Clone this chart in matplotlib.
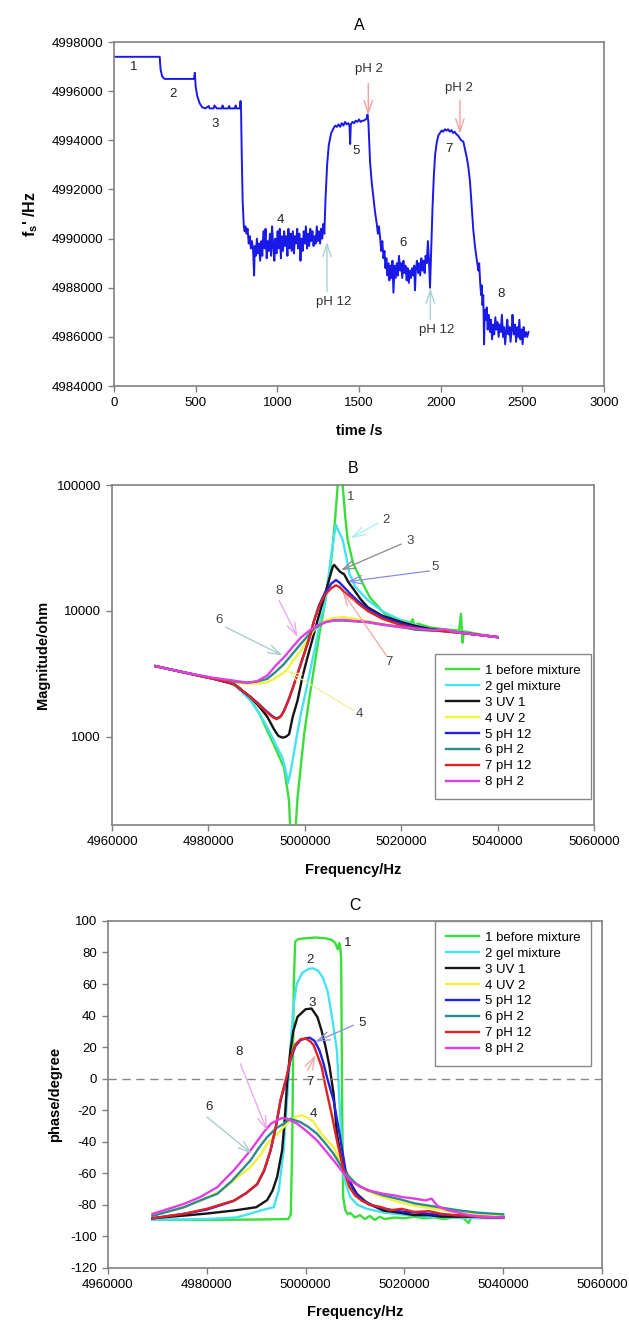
import matplotlib.pyplot as plt
from matplotlib.ticker import NullLocator

plt.rcParams['font.family'] = ['Liberation Sans', 'DejaVu Sans']
plt.rcParams['mathtext.fontset'] = 'custom'
plt.rcParams['mathtext.rm'] = 'Liberation Sans'
plt.rcParams['mathtext.bf'] = 'Liberation Sans:bold'

# ---------------- panel A : resonance frequency vs time ----------------
a_time = [0, 280, 285, 295, 310, 490, 495, 500, 510, 525,
          540, 560, 580, 585, 610, 615, 630, 660, 665, 670,
          700, 705, 710, 740, 745, 750, 770, 775, 778, 782,
          788, 795, 800, 805, 812, 818, 825, 832, 838, 845,
          852, 858, 862, 868, 875, 882, 888, 895, 902, 908,
          915, 922, 928, 935, 942, 948, 955, 962, 968, 975,
          982, 988, 995, 1002, 1008, 1015, 1022, 1028, 1035, 1042,
          1048, 1055, 1062, 1068, 1075, 1082, 1088, 1095, 1102, 1108,
          1115, 1122, 1128, 1135, 1142, 1148, 1155, 1162, 1168, 1175,
          1182, 1188, 1195, 1202, 1208, 1215, 1222, 1228, 1235, 1242,
          1248, 1255, 1262, 1268, 1275, 1282, 1288, 1295, 1305, 1315,
          1330, 1345, 1355, 1365, 1375, 1385, 1395, 1405, 1415, 1425,
          1435, 1442, 1446, 1450, 1460, 1470, 1480, 1490, 1500, 1510,
          1520, 1530, 1540, 1548, 1552, 1558, 1568, 1578, 1588, 1598,
          1609, 1616, 1622, 1630, 1636, 1643, 1650, 1656, 1662, 1668,
          1674, 1680, 1686, 1692, 1698, 1705, 1711, 1718, 1725, 1732,
          1738, 1745, 1752, 1758, 1765, 1772, 1778, 1785, 1792, 1798,
          1805, 1812, 1818, 1825, 1832, 1838, 1843, 1848, 1855, 1862,
          1868, 1875, 1882, 1888, 1895, 1902, 1908, 1915, 1922, 1928,
          1935, 1942, 1950, 1958, 1966, 1976, 1986, 1996, 2006, 2016,
          2026, 2036, 2046, 2056, 2066, 2076, 2086, 2096, 2106, 2116,
          2126, 2139, 2150, 2160, 2170, 2180, 2190, 2200, 2210, 2220,
          2231, 2236, 2242, 2248, 2252, 2256, 2261, 2266, 2270, 2276,
          2282, 2288, 2295, 2302, 2308, 2315, 2322, 2328, 2335, 2342,
          2348, 2355, 2362, 2368, 2375, 2382, 2388, 2395, 2402, 2408,
          2415, 2422, 2428, 2435, 2440, 2448, 2455, 2462, 2468, 2475,
          2482, 2488, 2495, 2502, 2508, 2515, 2522, 2530, 2538]
a_freq = [4997400, 4997400, 4996900, 4996600, 4996500, 4996500, 4996750, 4996200, 4995800, 4995500,
          4995350, 4995300, 4995400, 4995300, 4995300, 4995420, 4995300, 4995300, 4995420, 4995300,
          4995300, 4995400, 4995300, 4995300, 4995420, 4995300, 4995300, 4995600, 4995300, 4993500,
          4991500, 4990500, 4990300, 4990500, 4990200, 4990400, 4989800, 4990100, 4989600, 4989900,
          4989500, 4988500, 4989700, 4989300, 4990000, 4989400, 4989800, 4989100, 4989900, 4989300,
          4990300, 4989600, 4990400, 4989200, 4989900, 4989500, 4990200, 4989300, 4990500, 4989700,
          4989100, 4990000, 4989400, 4990300, 4989600, 4990400, 4989200, 4990100, 4989500, 4990300,
          4989700, 4990100, 4989300, 4990400, 4989600, 4990200, 4989500, 4990300, 4989400, 4990100,
          4989800, 4990400, 4989600, 4990200, 4989100, 4990000, 4989500, 4990300, 4989800, 4990500,
          4989600, 4990200, 4989700, 4990400, 4989900, 4990300, 4989700, 4990100, 4989800, 4990500,
          4989900, 4990300, 4989800, 4990400, 4990000, 4990600, 4990200, 4991600, 4993000, 4993800,
          4994300, 4994500, 4994600, 4994550, 4994650, 4994550, 4994700, 4994600, 4994750, 4994650,
          4994700, 4994600, 4993850, 4994650, 4994750, 4994700, 4994800, 4994750, 4994850, 4994750,
          4994800, 4994800, 4994850, 4994900, 4995050, 4994700, 4993100, 4992300, 4991700, 4991100,
          4990600, 4990200, 4990500, 4990000, 4989500, 4989900, 4989200, 4989500, 4988800, 4989200,
          4988500, 4989000, 4988300, 4988900, 4988400, 4989100, 4987800, 4988900, 4988400, 4989000,
          4988500, 4989300, 4988700, 4989000, 4988400, 4989100, 4988600, 4988900, 4988300, 4988800,
          4988200, 4988700, 4988400, 4988800, 4988500, 4988900, 4987900, 4988700, 4989100, 4988600,
          4989000, 4988500, 4989200, 4988700, 4989100, 4988600, 4989300, 4989000, 4989900, 4989200,
          4988000, 4989500, 4991200, 4992500, 4993400, 4993900, 4994200, 4994300, 4994400, 4994350,
          4994450, 4994400, 4994450, 4994350, 4994420, 4994300, 4994350, 4994250, 4994200, 4994100,
          4994000, 4993950, 4993600, 4993300, 4992900, 4992300, 4991300, 4990350, 4989700, 4989200,
          4988700, 4989000, 4988200, 4987700, 4988100, 4987300, 4987700, 4985700, 4987100, 4986700,
          4987200, 4986300, 4986900, 4986200, 4986700, 4985900, 4986500, 4986100, 4986800, 4986300,
          4986600, 4986000, 4986500, 4986200, 4986900, 4986000, 4986400, 4985700, 4986300, 4986700,
          4986100, 4986400, 4985800, 4986300, 4986900, 4986100, 4986500, 4985800, 4986400, 4986000,
          4986700, 4985900, 4986300, 4985700, 4986400, 4986000, 4986200, 4986000, 4986200]

a_xticks = [0, 500, 1000, 1500, 2000, 2500, 3000]
a_yticks = [4984000, 4986000, 4988000, 4990000, 4992000, 4994000, 4996000, 4998000]

# ---------------- panel B : impedance magnitude ----------------
b_f1 = [4969000, 4972000, 4975000, 4978000, 4981000, 4984000, 4986500, 4988750, 4990500, 4992230,
        4994000, 4995700, 4996730, 4997080, 4997500, 4997920, 4998480, 4999860, 5000900, 5001940,
        5003000, 5004020, 5005000, 5005700, 5006300, 5006810, 5007300, 5007850, 5008400, 5008890,
        5010000, 5011670, 5013500, 5016520, 5019000, 5022000, 5022400, 5022700, 5023480, 5026000,
        5029000, 5032000, 5032400, 5032700, 5033000, 5036500, 5040000]
b_z1 = [3650, 3450, 3250, 3050, 2900, 2720, 2450, 1960, 1550, 1117,
        800, 569, 309, 150, 90, 150, 328, 1050, 2000, 3570,
        6500, 10700, 18000, 30000, 55000, 98000, 130000, 100000, 55000, 36700,
        24000, 17600, 12800, 9540, 8600, 8100, 8600, 7700, 7930, 7400,
        7150, 7000, 9500, 5600, 6900, 6500, 6200]
b_f2 = [4969000, 4975000, 4981000, 4985300, 4988750, 4990500, 4992230, 4993800, 4995350, 4996000,
        4996530, 4997000, 4997430, 4998300, 4999170, 5000200, 5001250, 5002300, 5003330, 5004020,
        5004700, 5005420, 5006000, 5006460, 5006900, 5007850, 5008500, 5009230, 5010500, 5013060,
        5016000, 5020000, 5023000, 5026000, 5030000, 5034000, 5037000, 5040000]
b_z2 = [3650, 3250, 2900, 2630, 1940, 1550, 1186, 900, 684, 550,
        431, 520, 643, 1000, 1517, 2300, 3570, 5500, 8930, 10700,
        16000, 26900, 38000, 48300, 44000, 36700, 28000, 19900, 15500, 12200,
        10000, 8430, 7700, 7200, 6950, 6650, 6400, 6200]
b_f3 = [4969000, 4975000, 4981000, 4985300, 4988750, 4990500, 4992200, 4993610, 4994500, 4995350,
        4996000, 4996730, 4997500, 4998480, 4999500, 5000560, 5001600, 5002640, 5003500, 5004020,
        5005070, 5005800, 5006110, 5006600, 5007300, 5008190, 5009000, 5010270, 5011500, 5013060,
        5016000, 5020000, 5023000, 5026000, 5030000, 5034000, 5037000, 5040000]
b_z3 = [3650, 3250, 2900, 2630, 2060, 1750, 1450, 1150, 1020, 988,
        1000, 1050, 1450, 1940, 3000, 4300, 6000, 8440, 11000, 12900,
        18000, 22500, 23200, 22000, 20500, 19500, 17000, 14600, 12500, 10700,
        9200, 8170, 7600, 7200, 6900, 6600, 6400, 6200]
b_f4 = [4969000, 4975000, 4981000, 4985300, 4988000, 4990000, 4992200, 4994000, 4995700, 4996400,
        4997500, 4999200, 5001900, 5004000, 5006000, 5008000, 5010000, 5013000, 5016000, 5020000,
        5024000, 5028000, 5032000, 5036000, 5040000]
b_z4 = [3650, 3250, 2900, 2700, 2650, 2650, 2710, 2950, 3260, 3450,
        4000, 4870, 7040, 8300, 8800, 8950, 8700, 8300, 7900, 7500,
        7100, 6950, 6700, 6450, 6200]
b_f5 = [4969000, 4975000, 4981000, 4985300, 4988750, 4990500, 4992200, 4993400, 4994170, 4995000,
        4995700, 4996800, 4997780, 4998800, 4999860, 5001000, 5001940, 5003000, 5004200, 5005500,
        5006460, 5007200, 5008300, 5009580, 5011000, 5013060, 5016000, 5020000, 5023000, 5026000,
        5030000, 5034000, 5037000, 5040000]
b_z5 = [3650, 3250, 2900, 2630, 2080, 1820, 1580, 1450, 1400, 1460,
        1620, 2050, 2630, 3450, 4570, 6200, 8440, 11200, 14000, 16500,
        17600, 16800, 15200, 13500, 12000, 10400, 9000, 7900, 7400, 7100,
        6850, 6600, 6400, 6200]
b_f6 = [4969000, 4975000, 4981000, 4985300, 4988000, 4990000, 4992200, 4994000, 4995700, 4997500,
        4999200, 5001900, 5004000, 5006000, 5008000, 5010000, 5013000, 5016000, 5020000, 5023000,
        5026000, 5030000, 5034000, 5037000, 5040000]
b_z6 = [3650, 3250, 2900, 2750, 2700, 2750, 2890, 3300, 3800, 4600,
        5500, 7240, 8100, 8400, 8400, 8300, 8150, 7800, 7450, 7100,
        7000, 6900, 6650, 6400, 6200]
b_f7 = b_f5
b_z7 = [3650, 3250, 2900, 2630, 2060, 1800, 1560, 1430, 1385, 1450,
        1610, 2050, 2630, 3450, 4570, 6200, 8440, 11000, 13500, 15200,
        16000, 15500, 14000, 12900, 11500, 10000, 8700, 7700, 7300, 7050,
        6850, 6600, 6400, 6200]
b_f8 = [4969000, 4975000, 4981000, 4985300, 4988000, 4990000, 4992200, 4994000, 4995700, 4997500,
        4999200, 5001000, 5002600, 5004500, 5006000, 5008000, 5010000, 5013000, 5016000, 5020000,
        5024000, 5027000, 5029000, 5031000, 5034000, 5037000, 5040000]
b_z8 = [3650, 3250, 2950, 2800, 2700, 2760, 3070, 3700, 4300, 5200,
        6170, 7000, 7690, 8200, 8450, 8500, 8350, 8170, 7800, 7450,
        7200, 7050, 7150, 6850, 6600, 6400, 6200]

# ---------------- panel C : phase ----------------
c_f1 = [4969000, 4980000, 4990000, 4996500, 4997000, 4997300, 4997600, 4997900, 4998500, 5000000,
        5002000, 5004000, 5005300, 5006000, 5006500, 5006800, 5007000, 5007200, 5007400, 5007600,
        5008000, 5008500, 5009000, 5010000, 5011000, 5012000, 5013000, 5014000, 5015000, 5016000,
        5018000, 5020000, 5022000, 5024000, 5026000, 5028000, 5030000, 5032000, 5033000, 5033500,
        5036000, 5040000]
c_p1 = [-89.5, -89.5, -89.3, -89, -86, -40, 60, 87, 88.5, 89,
        89.5, 89, 88, 86, 82, 86, 84, 75, -20, -75,
        -83, -86, -85, -88, -86.5, -89, -87, -89.5, -87.5, -89,
        -88, -88.5, -87.5, -88.5, -88, -89, -88, -88.5, -91.5, -88,
        -87.5, -87.5]
c_f2 = [4969000, 4980000, 4986000, 4988840, 4991000, 4993550, 4994560, 4995560, 4996240, 4996920,
        4997500, 4998200, 4999300, 5000500, 5001500, 5002500, 5003500, 5004500, 5005300, 5006000,
        5006340, 5007010, 5007680, 5009030, 5010500, 5012400, 5016000, 5019130, 5025000, 5030000,
        5035000, 5040000]
c_p2 = [-89.5, -89, -88, -85.5, -83.5, -81.5, -70.9, -45.5, -13.7, 18,
        45, 60, 67, 69.5, 70, 68.5, 64, 55, 40, 25,
        18, -24, -62, -75, -80, -82.5, -85, -86, -87.5, -88,
        -88.5, -88.5]
c_f3 = [4969000, 4975370, 4980000, 4985460, 4990000, 4992210, 4993300, 4994230, 4995240, 4995800,
        4996240, 4996920, 4997500, 4998360, 4999980, 5001200, 5002400, 5003200, 5004040, 5004850,
        5005660, 5006340, 5007300, 5008360, 5010380, 5012500, 5015760, 5019130, 5022000, 5025000,
        5027500, 5030000, 5035000, 5040000]
c_p3 = [-88.5, -86.8, -85.5, -83.6, -81.5, -77, -71, -62.4, -45.5, -25,
        -3.1, 18, 30, 39.2, 44, 44.5, 39, 30.8, 20.2, 7.6,
        -9.5, -34.9, -52, -62.4, -73, -79, -83.6, -85, -86.5, -86.5,
        -87.5, -87.5, -87.5, -88]
c_f4 = [4969000, 4975000, 4978900, 4982950, 4986000, 4988840, 4991060, 4992210, 4994300, 4995560,
        4997000, 4998200, 4999270, 5000500, 5001500, 5002300, 5003240, 5004500, 5005660, 5007000,
        5007700, 5009030, 5010400, 5012400, 5015760, 5019130, 5022000, 5025000, 5028000, 5031000,
        5035000, 5040000]
c_p4 = [-85.5, -82, -77.2, -70.9, -63, -56.1, -47.6, -41.2, -35, -30.7,
        -26, -24, -23.3, -25, -27, -30.7, -35, -39.5, -43.4, -52,
        -57, -63, -67, -71, -75.2, -78.5, -80.5, -82, -83.5, -85,
        -86.5, -87.5]
c_f5 = [4969000, 4975370, 4980000, 4985460, 4988000, 4990190, 4991600, 4992880, 4994000, 4994900,
        4996200, 4997000, 4998000, 4999000, 5000000, 5000800, 5001800, 5002800, 5003600, 5004400,
        5005660, 5006870, 5008090, 5009700, 5011500, 5014000, 5017000, 5020000, 5023000, 5026000,
        5030000, 5035000, 5040000]
c_p5 = [-88.5, -85.7, -83, -77.5, -72.5, -67, -58.5, -46, -30.5, -14.5,
        1, 13, 21, 24.5, 25.5, 26, 24, 18, 10, 0,
        -13.7, -34.9, -58.1, -70.9, -77, -81, -83, -84.5, -85, -86,
        -86.5, -87.5, -88]
c_f6 = [4969000, 4975370, 4978000, 4982110, 4985000, 4988840, 4990500, 4992210, 4994000, 4995560,
        4996920, 4998930, 5000500, 5002300, 5004000, 5005660, 5007700, 5009030, 5010400, 5012400,
        5015760, 5019130, 5022000, 5025000, 5028000, 5031000, 5035000, 5040000]
c_p6 = [-87, -81.5, -78, -73, -65, -51.8, -44, -37, -31.5, -28.5,
        -25.4, -27.5, -30.5, -34.9, -41, -47.6, -58, -63, -67, -70.5,
        -74, -76.5, -79, -80.5, -82, -83.5, -85, -86]
c_f7 = [4969000, 4975370, 4980000, 4985460, 4988000, 4990190, 4991600, 4992880, 4994000, 4994900,
        4996200, 4997000, 4998000, 4999000, 5000000, 5001000, 5001620, 5002500, 5003240, 5004050,
        5005250, 5006470, 5007690, 5008900, 5010000, 5011340, 5013000, 5015390, 5017000, 5019450,
        5022000, 5025000, 5027550, 5030000, 5033000, 5036000, 5040000]
c_p7 = [-88.5, -85.7, -82.5, -77.3, -72.5, -66.7, -58, -45.5, -30, -13.7,
        2, 14, 22, 25, 25.5, 23.5, 21.2, 14, 7.5, -5.2,
        -22.2, -41.2, -58.1, -68.8, -74, -77.3, -80, -81.5, -83.5, -82.5,
        -84.5, -84, -85.7, -86.5, -87, -88, -88]
c_f8 = [4969000, 4975370, 4978700, 4982110, 4985500, 4988840, 4991530, 4993000, 4994230, 4995200,
        4996240, 4998270, 5000300, 5002300, 5004000, 5005660, 5007700, 5009030, 5011000, 5013000,
        5015760, 5018000, 5019450, 5022000, 5024320, 5025500, 5026500, 5027160, 5029000, 5031000,
        5033000, 5036000, 5040000]
c_p8 = [-85.7, -79.4, -75, -68.8, -58, -45.5, -33.9, -28.5, -26.4, -25,
        -25.4, -28.5, -33.5, -39.1, -45.5, -51.8, -60, -64.5, -68.5, -71,
        -73, -74, -75, -76, -77.2, -76, -80, -81.5, -83.5, -85,
        -86.5, -87.5, -88]

series_labels = ['1 before mixture', '2 gel mixture', '3 UV 1', '4 UV 2',
                 '5 pH 12', '6 pH 2', '7 pH 12', '8 pH 2']
series_colors = ['#3ade3a', '#45e3f2', '#151515', '#f2f23c',
                 '#2222e0', '#2b8c8c', '#e02222', '#e33ee3']
arrow_colors = {'2': '#a5ecf4', '3': '#8a8a8a', '4': '#efef9a', '5': '#8c8ce6',
                '6': '#a7c6cc', '7': '#f2a3a3', '8': '#eaa2ea'}

freq_ticks = [4960000, 4980000, 5000000, 5020000, 5040000, 5060000]
mag_ticks = [1000, 10000, 100000]
phase_ticks = list(range(-120, 101, 20))

b_freqs = [b_f1, b_f2, b_f3, b_f4, b_f5, b_f6, b_f7, b_f8]
b_mags = [b_z1, b_z2, b_z3, b_z4, b_z5, b_z6, b_z7, b_z8]
c_freqs = [c_f1, c_f2, c_f3, c_f4, c_f5, c_f6, c_f7, c_f8]
c_phases = [c_p1, c_p2, c_p3, c_p4, c_p5, c_p6, c_p7, c_p8]

spine_col = '#808080'
tick_fs = 9.5
lab_fs = 10.5


def style_axes(ax):
    for sp in ax.spines.values():
        sp.set_color(spine_col)
        sp.set_linewidth(1.2)
    ax.tick_params(direction='out', length=4, width=1, color=spine_col,
                   labelsize=tick_fs, pad=4, top=False, right=False)


fig = plt.figure(figsize=(6.29, 13.23), dpi=100)

# ---- A ----
axA = fig.add_axes([0.1812, 0.7082, 0.7790, 0.2600])
axA.plot(a_time, a_freq, color='#1a1ae8', lw=1.4)
axA.set_xlim(0, 3000)
axA.set_ylim(4984000, 4998000)
axA.set_xticks(a_xticks)
axA.set_xticklabels([str(v) for v in a_xticks])
axA.set_yticks(a_yticks)
axA.set_yticklabels([str(v) for v in a_yticks])
style_axes(axA)
axA.set_title('A', fontsize=11.5, pad=9)
axA.set_xlabel('time /s', fontsize=lab_fs, fontweight='bold', labelpad=11)
axA.set_ylabel(r"$\mathbf{f_s}$' /Hz", fontsize=lab_fs + 1, fontweight='bold', labelpad=8)

a_labels = [('1', 118, 4996980), ('2', 362, 4995900), ('3', 621, 4994680), ('4', 1017, 4990750),
            ('5', 1483, 4993570), ('6', 1768, 4989830), ('7', 2052, 4993640), ('8', 2372, 4987740)]
for txt, x, y in a_labels:
    axA.text(x, y, txt, fontsize=9.5, ha='center', va='center', color='#222222')

ph_arrow = '->,head_length=0.9,head_width=0.3'
axA.annotate('', xy=(1304, 4989870), xytext=(1304, 4987850),
             arrowprops=dict(arrowstyle=ph_arrow, color='#a8d2d2', lw=1, shrinkA=0, shrinkB=0))
axA.text(1347, 4987430, 'pH 12', fontsize=9.5, ha='center', va='center', color='#333333')
axA.annotate('', xy=(1937, 4987975), xytext=(1937, 4986700),
             arrowprops=dict(arrowstyle=ph_arrow, color='#a8d2d2', lw=1, shrinkA=0, shrinkB=0))
axA.text(1975, 4986300, 'pH 12', fontsize=9.5, ha='center', va='center', color='#333333')
axA.annotate('', xy=(1557, 4995020), xytext=(1557, 4996310),
             arrowprops=dict(arrowstyle=ph_arrow, color='#f2a0a0', lw=1, shrinkA=0, shrinkB=0))
axA.text(1564, 4996920, 'pH 2', fontsize=9.5, ha='center', va='center', color='#333333')
axA.annotate('', xy=(2118, 4994275), xytext=(2118, 4995630),
             arrowprops=dict(arrowstyle=ph_arrow, color='#f2a0a0', lw=1, shrinkA=0, shrinkB=0))
axA.text(2110, 4996145, 'pH 2', fontsize=9.5, ha='center', va='center', color='#333333')

# ---- B ----
axB = fig.add_axes([0.1781, 0.3764, 0.7663, 0.2570])
for fx, zy, lab, col in zip(b_freqs, b_mags, series_labels, series_colors):
    axB.plot(fx, zy, color=col, lw=1.7, label=lab)
axB.set_yscale('log')
axB.set_xlim(4960000, 5060000)
axB.set_ylim(200, 100000)
axB.set_xticks(freq_ticks)
axB.set_xticklabels([str(v) for v in freq_ticks])
axB.set_yticks(mag_ticks)
axB.set_yticklabels([str(v) for v in mag_ticks])
axB.yaxis.set_minor_locator(NullLocator())
style_axes(axB)
axB.set_title('B', fontsize=11.5, pad=9)
axB.set_xlabel('Frequency/Hz', fontsize=lab_fs, fontweight='bold', labelpad=11)
axB.set_ylabel('Magnitude/ohm', fontsize=lab_fs, fontweight='bold', labelpad=5)
axB.legend(loc='upper left', bbox_to_anchor=(0.670, 0.503), fontsize=9.5, frameon=True,
           fancybox=False, edgecolor='#888888', framealpha=1, handlelength=2.5,
           handletextpad=0.5, labelspacing=0.28, borderpad=0.8, borderaxespad=0)

b_notes = [('2', (5016880, 53000), (5015150, 49800), (5009580, 37900)),
           ('3', (5021940, 36200), (5020000, 34000), (5007500, 21100)),
           ('5', (5026940, 22200), (5025900, 20800), (5008890, 17100)),
           ('7', (5017560, 3920), (5016880, 4440), (5007850, 14200)),
           ('8', (4994650, 14450), (4994650, 12170), (4998480, 6210)),
           ('6', (4982300, 8430), (4983540, 7450), (4995350, 4440)),
           ('4', (5011310, 1535), (5010270, 1610), (4996400, 3360))]
axB.text(5009440, 80400, '1', fontsize=9.5, ha='center', va='center', color='#444444')
for txt, tpos, tail, tip in b_notes:
    axB.annotate('', xy=tip, xytext=tail,
                 arrowprops=dict(arrowstyle='->,head_length=0.9,head_width=0.3',
                                 color=arrow_colors[txt], lw=0.9, shrinkA=0, shrinkB=0))
    axB.text(tpos[0], tpos[1], txt, fontsize=9.5, ha='center', va='center', color='#444444')

# ---- C ----
axC = fig.add_axes([0.1717, 0.0416, 0.7854, 0.2623])
for fx, py, lab, col in zip(c_freqs, c_phases, series_labels, series_colors):
    axC.plot(fx, py, color=col, lw=1.7, label=lab)
axC.axhline(0, color='#888888', lw=1, dashes=(6, 4))
axC.set_xlim(4960000, 5060000)
axC.set_ylim(-120, 100)
axC.set_xticks(freq_ticks)
axC.set_xticklabels([str(v) for v in freq_ticks])
axC.set_yticks(phase_ticks)
axC.set_yticklabels([str(v) for v in phase_ticks])
style_axes(axC)
axC.set_title('C', fontsize=11.5, pad=8)
axC.set_xlabel('Frequency/Hz', fontsize=lab_fs, fontweight='bold', labelpad=10)
axC.set_ylabel('phase/degree', fontsize=lab_fs, fontweight='bold', labelpad=6)
axC.legend(loc='upper left', bbox_to_anchor=(0.662, 1.0), fontsize=9.5, frameon=True,
           fancybox=False, edgecolor='#888888', framealpha=1, handlelength=2.5,
           handletextpad=0.5, labelspacing=0.28, borderpad=0.8, borderaxespad=0)

for txt, x, y in [('1', 5008500, 86.2), ('2', 5000800, 75.2), ('3', 5001400, 47.7),
                  ('4', 5001600, -22.6)]:
    axC.text(x, y, txt, fontsize=9.5, ha='center', va='center', color='#222222')
c_notes = [('5', (5011500, 35.4), (5009700, 33.9), (5002000, 23.4)),
           ('7', (5000800, -2.0), (5000420, 5.3), (5001990, 14.9)),
           ('8', (4986600, 17.0), (4986770, 9.6), (4992190, -32.8)),
           ('6', (4980400, -18.0), (4980020, -24.3), (4989150, -47.6))]
for txt, tpos, tail, tip in c_notes:
    axC.annotate('', xy=tip, xytext=tail,
                 arrowprops=dict(arrowstyle='->,head_length=0.9,head_width=0.3',
                                 color=arrow_colors[txt], lw=0.9, shrinkA=0, shrinkB=0))
    axC.text(tpos[0], tpos[1], txt, fontsize=9.5, ha='center', va='center', color='#222222')

fig.savefig('out.png', dpi=100)
